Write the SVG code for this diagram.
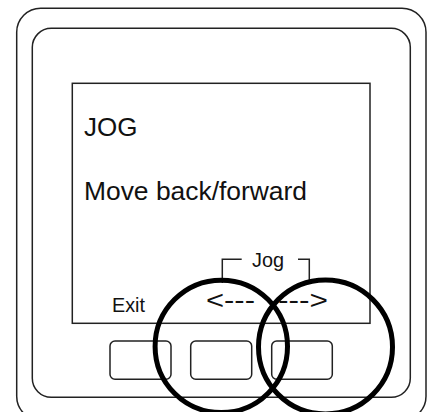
<svg xmlns="http://www.w3.org/2000/svg" width="430" height="412" viewBox="0 0 430 412">
<style>
.frame{fill:none;stroke:#222;stroke-width:1.5}
.btn{fill:#fff;stroke:#222;stroke-width:1.5}
.hl{fill:none;stroke:#000;stroke-width:5}
.t{font-family:"Liberation Sans",Arial,sans-serif;fill:#111}
.br{fill:none;stroke:#222;stroke-width:1.5}
</style>
<rect width="430" height="412" fill="#fff"/>
<g id="outer-case"><rect class="frame" x="16.7" y="8.3" width="409.3" height="412" rx="24"/></g>
<g id="inner-case"><rect class="frame" x="32.3" y="28.3" width="378" height="369" rx="19"/></g>
<g id="screen">
<rect class="frame" x="72.3" y="83.3" width="297.7" height="240"/>
<text class="t" x="84" y="136" font-size="26">JOG</text>
<text class="t" x="84" y="200" font-size="26" textLength="223" lengthAdjust="spacingAndGlyphs">Move back/forward</text>
<text class="t" x="112" y="312" font-size="20" textLength="33" lengthAdjust="spacingAndGlyphs">Exit</text>
<text class="t" x="252" y="267" font-size="20" textLength="32" lengthAdjust="spacingAndGlyphs">Jog</text>
<text class="t" x="206" y="309" font-size="26" textLength="49" lengthAdjust="spacingAndGlyphs">&lt;---</text>
<text class="t" x="278" y="309" font-size="26" textLength="50" lengthAdjust="spacingAndGlyphs">---&gt;</text>
</g>
<g id="connectors">
<polyline class="br" points="222.3,283 222.3,259.3 241.7,259.3"/>
<polyline class="br" points="298,259.3 309.3,259.3 309.3,281.7"/>
</g>
<g id="button-exit"><rect class="btn" x="110" y="341" width="61" height="38.3" rx="5"/></g>
<g id="button-back"><rect class="btn" x="190.7" y="341" width="61" height="38.3" rx="5"/></g>
<g id="button-forward"><rect class="btn" x="271.7" y="341" width="60.6" height="38.3" rx="5"/></g>
<g id="highlight-back"><circle class="hl" cx="221.3" cy="346.4" r="66.2"/></g>
<g id="highlight-forward"><circle class="hl" cx="325.5" cy="347" r="67"/></g>
</svg>
